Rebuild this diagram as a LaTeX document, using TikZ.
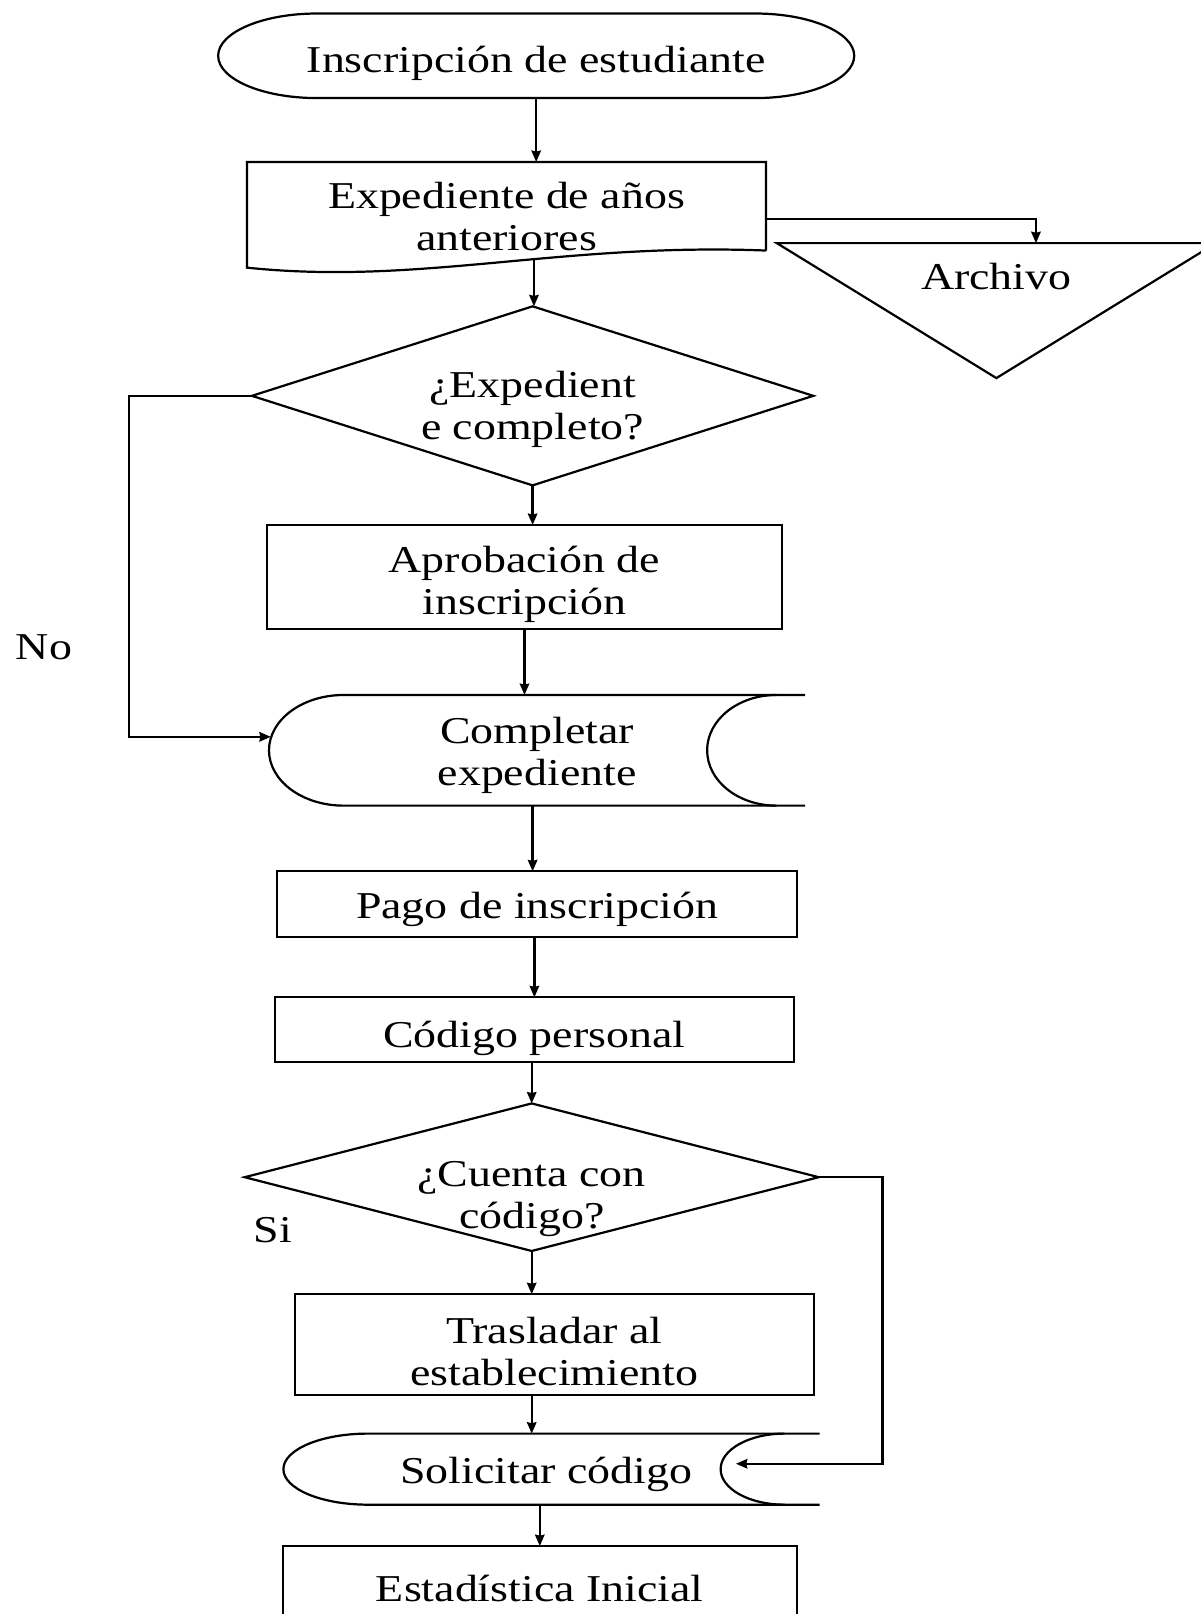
\documentclass[tikz,border=0pt]{standalone}
\usepackage{fontspec}
\setmainfont{Liberation Serif}[FakeStretch=1.21]
\usetikzlibrary{positioning,arrows.meta}

\begin{document}
\begin{tikzpicture}[
				every node/.style={font=\fontsize{12}{13.3}\selectfont, outer sep=0pt},
				shapenode/.style={rectangle, inner sep=0pt, align=center},
				boxnode/.style={rectangle, draw=black, line width=0.7pt, inner sep=0pt, align=center},
				lbl/.style={inner sep=0pt},
			]
			\useasboundingbox (-5.96,0.62) rectangle (7.38,-17.32);
			\node[shapenode, minimum width=7.07cm, minimum height=0.94cm] (inscripcion) {\rule{0pt}{13pt}Inscripción de estudiante};
			\node[shapenode, minimum width=5.77cm, minimum height=0.98cm] (expediente) [below=0.71cm of inscripcion, xshift=-0.33cm] {\rule{0pt}{14.6pt}Expediente de años\\anteriores};
			\node[shapenode, minimum width=4.88cm, minimum height=1.5cm, text height=8.2pt, text depth=21.8pt] (archivo) [below right=0.41cm and 0.12cm of expediente.east] {Archivo};
			\node[shapenode, minimum width=6.24cm, minimum height=1.99cm] (completo) [below=0.62cm of expediente, xshift=0.29cm] {\rule{0pt}{16.8pt}¿Expedient\\e completo?};
			\node[boxnode, minimum width=5.73cm, minimum height=1.16cm] (aprobacion) [below=0.44cm of completo, xshift=-0.09cm] {\rule{0pt}{12.7pt}Aprobación de\\inscripción};
			\node[shapenode, minimum width=5.96cm, minimum height=1.23cm] (completar) [below=0.73cm of aprobacion, xshift=0.14cm] {\rule{0pt}{11.4pt}Completar\\expediente};
			\node[boxnode, minimum width=5.78cm, minimum height=0.73cm] (pago) [below=0.73cm of completar] {\rule{0pt}{11.5pt}Pago de inscripción};
			\node[boxnode, minimum width=5.77cm, minimum height=0.72cm] (codigo) [below=0.67cm of pago, xshift=-0.03cm] {\rule{0pt}{14pt}Código personal};
			\node[shapenode, minimum width=6.38cm, minimum height=1.64cm] (cuenta) [below=0.46cm of codigo, xshift=-0.03cm] {\rule{0pt}{21.6pt}¿Cuenta con\\código?};
			\node[boxnode, minimum width=5.77cm, minimum height=1.12cm] (trasladar) [below=0.48cm of cuenta, xshift=0.25cm] {\rule{0pt}{12.6pt}Trasladar al\\establecimiento};
			\node[shapenode, minimum width=5.96cm, minimum height=0.79cm] (solicitar) [below=0.43cm of trasladar, xshift=-0.03cm] {\rule{0pt}{11.5pt}Solicitar código\hspace*{3.2pt}};
			\node[boxnode, minimum width=5.71cm, minimum height=0.78cm] (estadistica) [below=0.46cm of solicitar, xshift=-0.13cm] {\rule{0pt}{13pt}Estadística Inicial};
			\node[lbl] (si) [above right=0.09cm and 0.1cm of cuenta.south west, anchor=south west] {Si};
			\begin{scope}[line width=0.7pt]
			\draw ([xshift=1.1cm]inscripcion.north west) -- ([xshift=-1.1cm]inscripcion.north east)
				arc[start angle=90, end angle=-90, x radius=1.1cm, y radius=0.47cm]
				-- ([xshift=1.1cm]inscripcion.south west)
				arc[start angle=270, end angle=90, x radius=1.1cm, y radius=0.47cm] -- cycle;
			\draw (expediente.south east) -- (expediente.north east) -- (expediente.north west)
				-- ([yshift=-0.19cm]expediente.south west)
				.. controls +(1.92,-0.2) and +(-2.29,0.09) .. (expediente.south east) coordinate[pos=0.58] (expbot);
			\draw (archivo.north west) -- (archivo.north east) -- (archivo.south) -- cycle;
			\draw (completo.north) -- (completo.east) -- (completo.south) -- (completo.west) -- cycle;
			\draw (cuenta.north) -- (cuenta.east) -- (cuenta.south) -- (cuenta.west) -- cycle;
			\draw (completar.north east) -- ([xshift=0.83cm]completar.north west)
				arc[start angle=90, end angle=270, x radius=0.83cm, y radius=0.615cm]
				-- (completar.south east);
			\draw ([xshift=-0.32cm]completar.north east)
				arc[start angle=90, end angle=270, x radius=0.77cm, y radius=0.615cm];
			\draw (solicitar.north east) -- ([xshift=0.94cm]solicitar.north west)
				arc[start angle=90, end angle=270, x radius=0.94cm, y radius=0.395cm]
				-- (solicitar.south east);
			\draw ([xshift=-0.39cm]solicitar.north east)
				arc[start angle=90, end angle=270, x radius=0.71cm, y radius=0.395cm];
			\end{scope}
			\begin{scope}[line width=0.7pt, -{Stealth[length=3.6pt, width=3pt, inset=0.3pt]}]
			\draw (inscripcion.south) -- (inscripcion.south |- expediente.north);
			\draw (expbot) -- (expbot |- completo.north);
			\draw ([yshift=-0.14cm]expediente.east) -| ([xshift=0.44cm]archivo.north);
			\draw (completo.south) -- (completo.south |- aprobacion.north);
			\draw (completo.west) -- ++(-1.37cm,0) |- ([xshift=0.02cm, yshift=0.15cm]completar.west)
				node[lbl, pos=0.369, left=0.63cm] (no) {No};
			\draw (aprobacion.south) -- (aprobacion.south |- completar.north);
			\draw (completar.south -| completo.south) -- (completo.south |- pago.north);
			\draw (pago.south -| codigo.north) -- (codigo.north);
			\draw (codigo.south -| cuenta.north) -- (cuenta.north);
			\draw (cuenta.south) -- (cuenta.south |- trasladar.north);
			\draw (cuenta.east) -- ++(0.71cm,0) |- ([xshift=-0.93cm, yshift=0.06cm]solicitar.east);
			\draw (trasladar.south -| cuenta.south) -- (cuenta.south |- solicitar.north);
			\draw (solicitar.south -| estadistica.north) -- (estadistica.north);
			\end{scope}
			\end{tikzpicture}
\end{document}
